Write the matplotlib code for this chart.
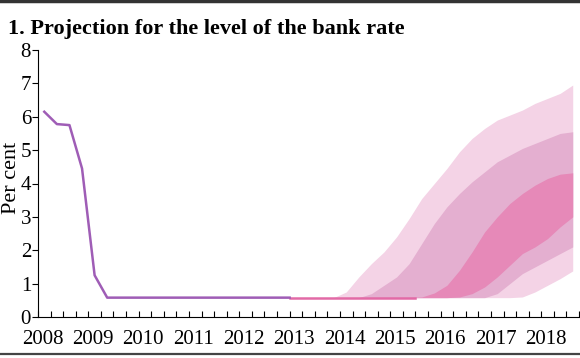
import matplotlib.pyplot as plt
from matplotlib.lines import Line2D

plt.rcParams['font.family'] = ['Liberation Serif', 'DejaVu Serif']

# history of the bank rate (quarterly, mid-quarter)
hist_t = [2008.125, 2008.375, 2008.625, 2008.875, 2009.125, 2009.375, 2013.0]
hist_v = [6.15, 5.78, 5.75, 4.45, 1.25, 0.58, 0.58]

# projection path (flat until the fan)
proj_t = [2013.0, 2015.5]
proj_v = [0.58, 0.58]

# fan chart bands, quarterly
fan_t = [2013.875, 2014.125, 2014.375, 2014.625, 2014.875, 2015.125, 2015.375,
         2015.625, 2015.875, 2016.125, 2016.375, 2016.625, 2016.875, 2017.125,
         2017.375, 2017.625, 2017.875, 2018.125, 2018.375, 2018.625]
outer_hi = [0.58, 0.75, 1.2, 1.6, 1.95, 2.4, 2.95, 3.55, 4.0, 4.45, 4.95, 5.35,
            5.65, 5.9, 6.05, 6.2, 6.4, 6.55, 6.7, 6.95]
outer_lo = [0.58, 0.58, 0.58, 0.58, 0.58, 0.58, 0.58, 0.58, 0.58, 0.58, 0.58,
            0.58, 0.58, 0.58, 0.58, 0.6, 0.75, 0.95, 1.15, 1.38]
mid_hi = [0.58, 0.58, 0.58, 0.7, 0.95, 1.2, 1.6, 2.2, 2.8, 3.3, 3.7, 4.05, 4.35,
          4.65, 4.85, 5.05, 5.2, 5.35, 5.5, 5.55]
mid_lo = [0.58, 0.58, 0.58, 0.58, 0.58, 0.58, 0.58, 0.58, 0.58, 0.58, 0.58,
          0.58, 0.58, 0.7, 1.0, 1.3, 1.5, 1.7, 1.9, 2.1]
inner_hi = [0.58, 0.58, 0.58, 0.58, 0.58, 0.58, 0.58, 0.6, 0.72, 0.95, 1.4,
            1.95, 2.55, 3.0, 3.4, 3.7, 3.95, 4.15, 4.28, 4.32]
inner_lo = [0.58, 0.58, 0.58, 0.58, 0.58, 0.58, 0.58, 0.58, 0.58, 0.58, 0.6,
            0.7, 0.9, 1.2, 1.55, 1.9, 2.1, 2.35, 2.7, 3.0]

years = list(range(2008, 2019))
quarters = [2008 + q / 4 for q in range(0, 44)]

fig = plt.figure(figsize=(5.8, 3.58), dpi=100)
ax = fig.add_axes([38 / 580, 1 - 317 / 358, 541 / 580, 267 / 358])

ax.fill_between(fan_t, outer_lo, outer_hi, color='#f4d3e6', lw=0)
ax.fill_between(fan_t, mid_lo, mid_hi, color='#e4afd0', lw=0)
ax.fill_between(fan_t, inner_lo, inner_hi, color='#e689b8', lw=0)
ax.plot(proj_t, proj_v, color='#e26aa6', lw=1.8, zorder=1)
ax.plot(hist_t, hist_v, color='#9f5db6', lw=1.8)

ax.set_xlim(2008.0, 2018.71)
ax.set_ylim(0, 8)
ax.set_yticks(range(0, 9))
ax.tick_params(axis='y', direction='out', length=4, width=0.8, labelsize=15, pad=1)

ax.set_xticks([y + 0.09 for y in years])
ax.set_xticklabels([str(y) for y in years])
ax.set_xticks(quarters, minor=True)
ax.tick_params(axis='x', which='major', length=0, labelsize=15, pad=9)
ax.tick_params(axis='x', which='minor', direction='in', length=4, width=0.8)

for s in ['top', 'right']:
    ax.spines[s].set_visible(False)
for s in ['left', 'bottom']:
    ax.spines[s].set_linewidth(0.8)

ax.set_ylabel('Per cent', fontsize=16)
ax.yaxis.set_label_coords(-0.032, 0.52)

fig.text(8 / 580, 1 - 34 / 358, '1. Projection for the level of the bank rate',
         fontsize=16, fontweight='bold', va='baseline')
fig.add_artist(Line2D([0, 1], [0.997, 0.997], color='#333333', lw=2.5))
fig.add_artist(Line2D([0, 1], [1 - 354 / 358, 1 - 354 / 358], color='#444444', lw=1.6))

fig.savefig('out.png', dpi=100)
